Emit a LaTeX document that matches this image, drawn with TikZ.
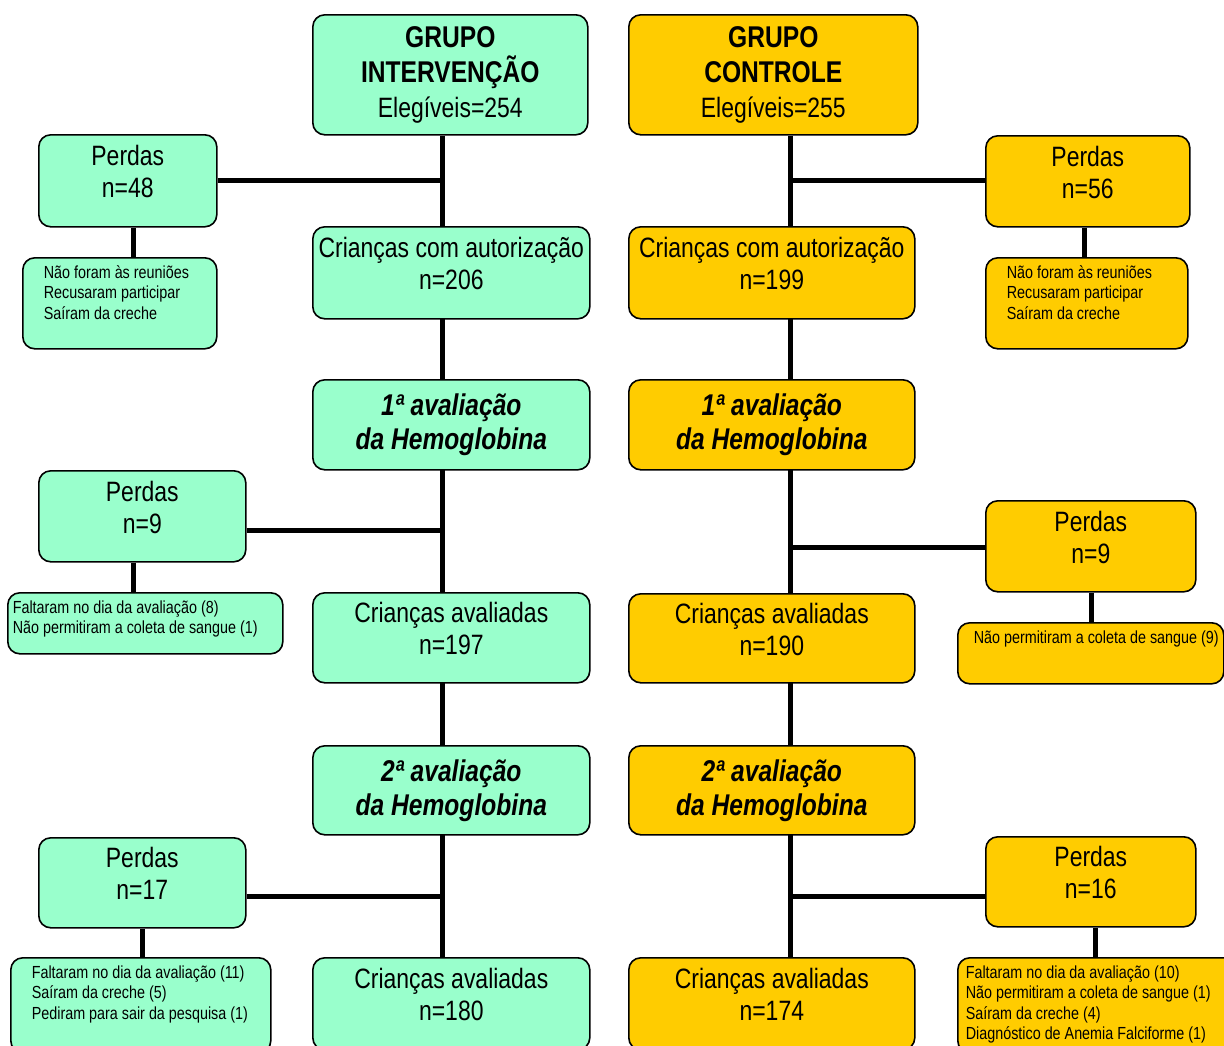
\documentclass[tikz,border=0pt]{standalone}
\usepackage{fontspec}
\setmainfont[FakeStretch=0.82]{Liberation Sans}
\usepackage{xcolor}
\definecolor{grpverde}{RGB}{153,255,204}
\definecolor{grpouro}{RGB}{255,204,0}
\usepackage{tikz}
\usetikzlibrary{positioning,backgrounds}
\tikzset{
  box/.style={draw=black,line width=1.6pt,rounded corners=12pt,align=center,inner sep=0pt,anchor=north west,font=\fontsize{28}{32}\selectfont},
  verde/.style={box,fill=grpverde},
  ouro/.style={box,fill=grpouro},
  alto/.style={execute at end node={\rule[-18pt]{0pt}{18pt}}},
  titulo/.style={font=\fontsize{28}{35}\selectfont},
  etapa/.style={font=\fontsize{30}{34}\selectfont\bfseries\itshape},
  motivo/.style={draw=black,line width=1.6pt,rounded corners=12pt,inner sep=0pt,anchor=north west,font=\fontsize{17.5}{20.5}\selectfont},
  link/.style={line width=5pt},
}
\newcommand{\grp}[1]{{\fontsize{30}{35}\selectfont\bfseries #1}}
% height, width, left margin, lines
\newcommand{\motivos}[4]{\parbox[c][#1][t]{#2}{\vspace*{6pt}\hspace*{#3}\begin{tabular}[t]{@{}l@{}}#4\end{tabular}}}

\begin{document}
\begin{tikzpicture}[x=1pt,y=-1pt]
\path[use as bounding box] (0,0) rectangle (1224,1045);
\clip (0,0) rectangle (1224,1045);

% Grupo intervencao
\node[verde,titulo,minimum width=275pt,minimum height=120pt] (gtopo) at (312,14) {\grp{GRUPO}\\\grp{INTERVENÇÃO}\\Elegíveis=254};
\node[verde,alto,minimum width=178pt,minimum height=92pt] (gperda1) at (38,134) {Perdas\\n=48};
\node[motivo,fill=grpverde] (gmot1) at (22,257) {\motivos{91pt}{194pt}{21pt}{Não foram às reuniões\\Recusaram participar\\Saíram da creche}};
\node[verde,alto,minimum width=277pt,minimum height=92pt] (gauto) at (312,226) {Crianças com autorização\\n=206};
\node[verde,etapa,minimum width=277pt,minimum height=90pt] (gaval1) at (312,379) {1ª avaliação\\da Hemoglobina};
\node[verde,alto,minimum width=207pt,minimum height=91pt] (gperda2) at (38,470) {Perdas\\n=9};
\node[motivo,fill=grpverde] (gmot2) at (7,592) {\motivos{61pt}{275pt}{5pt}{Faltaram no dia da avaliação (8)\\Não permitiram a coleta de sangue (1)}};
\node[verde,alto,minimum width=277pt,minimum height=90pt] (gfim1) at (312,592) {Crianças avaliadas\\n=197};
\node[verde,etapa,minimum width=277pt,minimum height=89pt] (gaval2) at (312,745) {2ª avaliação\\da Hemoglobina};
\node[verde,alto,minimum width=207pt,minimum height=90pt] (gperda3) at (38,837) {Perdas\\n=17};
\node[motivo,fill=grpverde] (gmot3) at (10,957) {\motivos{95pt}{260pt}{21pt}{Faltaram no dia da avaliação (11)\\Saíram da creche (5)\\Pediram para sair da pesquisa (1)}};
\node[verde,alto,minimum width=277pt,minimum height=92pt] (gfim2) at (312,957) {Crianças avaliadas\\n=180};

% Grupo controle
\node[ouro,titulo,minimum width=289pt,minimum height=120pt] (otopo) at (628,14) {\grp{GRUPO}\\\grp{CONTROLE}\\Elegíveis=255};
\node[ouro,alto,minimum width=204pt,minimum height=91pt] (operda1) at (985,135) {Perdas\\n=56};
\node[motivo,fill=grpouro] (omot1) at (985,257) {\motivos{91pt}{202pt}{21pt}{Não foram às reuniões\\Recusaram participar\\Saíram da creche}};
\node[ouro,alto,minimum width=286pt,minimum height=92pt] (oauto) at (628,226) {Crianças com autorização\\n=199};
\node[ouro,etapa,minimum width=286pt,minimum height=90pt] (oaval1) at (628,379) {1ª avaliação\\da Hemoglobina};
\node[ouro,alto,minimum width=210pt,minimum height=91pt] (operda2) at (985,500) {Perdas\\n=9};
\node[motivo,fill=grpouro] (omot2) at (957,622) {\motivos{61pt}{266pt}{16pt}{Não permitiram a coleta de sangue (9)}};
\node[ouro,alto,minimum width=286pt,minimum height=89pt] (ofim1) at (628,593) {Crianças avaliadas\\n=190};
\node[ouro,etapa,minimum width=286pt,minimum height=89pt] (oaval2) at (628,745) {2ª avaliação\\da Hemoglobina};
\node[ouro,alto,minimum width=210pt,minimum height=90pt] (operda3) at (985,836) {Perdas\\n=16};
\node[motivo,fill=grpouro] (omot3) at (957,957) {\motivos{95pt}{280pt}{8pt}{Faltaram no dia da avaliação (10)\\Não permitiram a coleta de sangue (1)\\Saíram da creche (4)\\Diagnóstico de Anemia Falciforme (1)}};
\node[ouro,alto,minimum width=286pt,minimum height=92pt] (ofim2) at (628,957) {Crianças avaliadas\\n=174};

% junctions
\coordinate (gj1) at (442,180);
\coordinate (gj2) at (442,530);
\coordinate (gj3) at (442,896);
\coordinate (oj1) at (790,180);
\coordinate (oj2) at (790,547);
\coordinate (oj3) at (790,896);
\coordinate (gv1) at (133,0);
\coordinate (gv2) at (133,0);
\coordinate (gv3) at (142,0);
\coordinate (ov1) at (1084,0);
\coordinate (ov2) at (1091,0);
\coordinate (ov3) at (1095,0);

\begin{scope}[on background layer]
% trunks
\draw[link] (gtopo.south -| gj1) -- (gfim2.north -| gj1);
\draw[link] (otopo.south -| oj1) -- (ofim2.north -| oj1);
% losses
\draw[link] (gperda1.east |- gj1) -- (gj1);
\draw[link] (gperda2.east |- gj2) -- (gj2);
\draw[link] (gperda3.east |- gj3) -- (gj3);
\draw[link] (operda1.west |- oj1) -- (oj1);
\draw[link] (operda2.west |- oj2) -- (oj2);
\draw[link] (operda3.west |- oj3) -- (oj3);
% reasons
\draw[link] (gperda1.south -| gv1) -- (gmot1.north -| gv1);
\draw[link] (gperda2.south -| gv2) -- (gmot2.north -| gv2);
\draw[link] (gperda3.south -| gv3) -- (gmot3.north -| gv3);
\draw[link] (operda1.south -| ov1) -- (omot1.north -| ov1);
\draw[link] (operda2.south -| ov2) -- (omot2.north -| ov2);
\draw[link] (operda3.south -| ov3) -- (omot3.north -| ov3);
\end{scope}
\end{tikzpicture}
\end{document}
